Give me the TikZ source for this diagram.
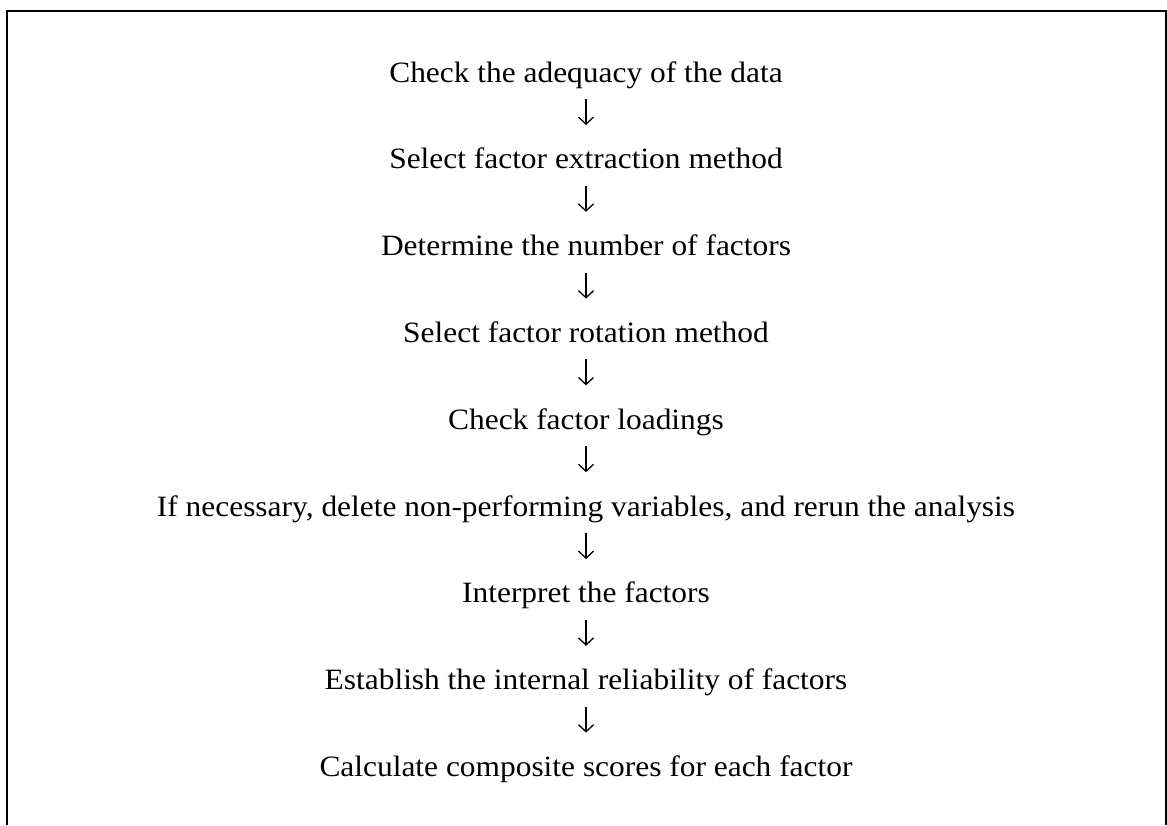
\documentclass[tikz,border=0pt]{standalone}
\usepackage{fontspec}
\setmainfont[FakeStretch=1.065]{Liberation Serif}
\usetikzlibrary{arrows.meta}
\begin{document}
\begin{tikzpicture}[x=1pt,y=-1pt,
  stepbox/.style={anchor=base, inner sep=0pt, font=\fontsize{29.5}{35}\selectfont},
  flow/.style={-{Straight Barb[length=7pt,width=15pt]}, line width=1.3pt}]
\useasboundingbox (0,0) rectangle (1167,825);
% open frame (no bottom edge)
\draw[line width=2pt] (7,825) -- (7,11) -- (1165.7,11) -- (1165.7,825);
% steps of the procedure
\node[stepbox] (s1) at (586,82.0)  {Check the adequacy of the data};
\node[stepbox] (s2) at (586,168.8) {Select factor extraction method};
\node[stepbox] (s3) at (586,255.6) {Determine the number of factors};
\node[stepbox] (s4) at (586,342.4) {Select factor rotation method};
\node[stepbox] (s5) at (586,429.2) {Check factor loadings};
\node[stepbox] (s6) at (586,516.0) {If necessary, delete non-performing variables, and rerun the analysis};
\node[stepbox] (s7) at (586,602.8) {Interpret the factors};
\node[stepbox] (s8) at (586,689.6) {Establish the internal reliability of factors};
\node[stepbox] (s9) at (586,776.4) {Calculate composite scores for each factor};
% arrows between consecutive steps
\foreach \a in {1,...,8}{
  \draw[flow] ([yshift=-17pt]s\a.base) -- ([yshift=-43pt]s\a.base);
}
\end{tikzpicture}
\end{document}
